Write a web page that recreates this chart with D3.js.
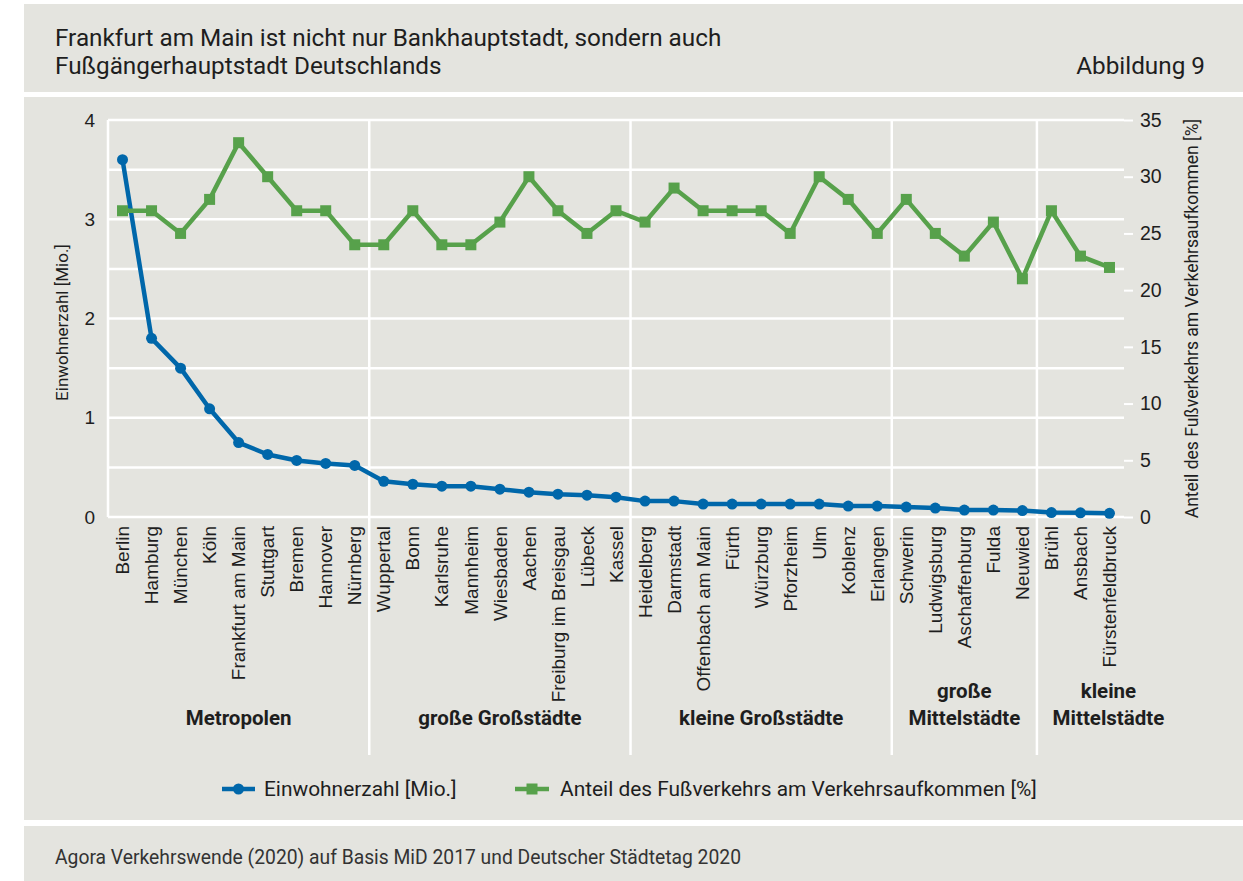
<!DOCTYPE html>
<html>
<head>
<meta charset="utf-8">
<script src="https://cdn.jsdelivr.net/npm/d3@7"></script>
<style>
  body { margin: 0; background: #fff; }
  svg { display: block; font-family: Roboto, "Open Sans", sans-serif; }
</style>
</head>
<body>
<div class="container"></div>
<script>
var width = 1243,
    height = 881,
    bg = '#e4e4df',
    blue = '#0067aa',
    green = '#57a14b',
    textCol = '#1e1e1e';

var cities = ['Berlin', 'Hamburg', 'München', 'Köln', 'Frankfurt am Main', 'Stuttgart', 'Bremen', 'Hannover', 'Nürnberg',
    'Wuppertal', 'Bonn', 'Karlsruhe', 'Mannheim', 'Wiesbaden', 'Aachen', 'Freiburg im Breisgau', 'Lübeck', 'Kassel',
    'Heidelberg', 'Darmstadt', 'Offenbach am Main', 'Fürth', 'Würzburg', 'Pforzheim', 'Ulm', 'Koblenz', 'Erlangen',
    'Schwerin', 'Ludwigsburg', 'Aschaffenburg', 'Fulda', 'Neuwied',
    'Brühl', 'Ansbach', 'Fürstenfeldbruck'];

// Einwohnerzahl [Mio.]
var population = [3.6, 1.8, 1.5, 1.09, 0.75, 0.63, 0.57, 0.54, 0.52,
    0.36, 0.33, 0.31, 0.31, 0.28, 0.25, 0.23, 0.22, 0.20,
    0.16, 0.16, 0.13, 0.13, 0.13, 0.13, 0.13, 0.11, 0.11,
    0.10, 0.09, 0.07, 0.07, 0.065,
    0.045, 0.042, 0.037];

// Anteil des Fußverkehrs [%]
var walkShare = [27, 27, 25, 28, 33, 30, 27, 27, 24,
    24, 27, 24, 24, 26, 30, 27, 25, 27,
    26, 29, 27, 27, 27, 25, 30, 28, 25,
    28, 25, 23, 26, 21,
    27, 23, 22];

var groups = [
    { name: ['Metropolen'], first: 'Berlin', last: 'Nürnberg' },
    { name: ['große Großstädte'], first: 'Wuppertal', last: 'Kassel' },
    { name: ['kleine Großstädte'], first: 'Heidelberg', last: 'Erlangen' },
    { name: ['große', 'Mittelstädte'], first: 'Schwerin', last: 'Neuwied' },
    { name: ['kleine', 'Mittelstädte'], first: 'Brühl', last: 'Fürstenfeldbruck' }
];

var leftTicks = [0, 1, 2, 3, 4],
    rightTicks = [0, 5, 10, 15, 20, 25, 30, 35];

var plot = { left: 108, right: 1124, top: 120, bottom: 517 };

var drawPanels = (svg) => {
    svg.append('rect').attr('x', 24).attr('y', 4).attr('width', width - 24).attr('height', 88).attr('fill', bg);
    svg.append('rect').attr('x', 24).attr('y', 97).attr('width', width - 24).attr('height', 723).attr('fill', bg);
    svg.append('rect').attr('x', 24).attr('y', 826).attr('width', width - 24).attr('height', height - 826).attr('fill', bg);

    var t = svg.append('g').style('font-size', '24.3px').attr('fill', textCol);
    t.append('text').attr('x', 55).attr('y', 46).text('Frankfurt am Main ist nicht nur Bankhauptstadt, sondern auch');
    t.append('text').attr('x', 55).attr('y', 74).text('Fußgängerhauptstadt Deutschlands');
    t.append('text').attr('x', 1205).attr('y', 74).attr('text-anchor', 'end').text('Abbildung 9');

    svg.append('text').attr('x', 55).attr('y', 864)
        .style('font-size', '19.3px').attr('fill', '#333')
        .text('Agora Verkehrswende (2020) auf Basis MiD 2017 und Deutscher Städtetag 2020');
}

var drawChart = (svg) => {
    var x = d3.scaleBand().domain(cities).range([plot.left, plot.right]);
    var yL = d3.scaleLinear().domain([0, 4]).range([plot.bottom, plot.top]);
    var yR = d3.scaleLinear().domain([0, 35]).range([plot.bottom, plot.top]);
    var cx = (d) => x(d) + x.bandwidth() / 2;

    // grid
    var grid = svg.append('g').attr('stroke', '#fff').attr('stroke-width', 2.5);
    grid.selectAll('line.h').data(d3.range(0, 4.01, 0.5)).enter().append('line')
        .attr('x1', plot.left).attr('x2', plot.right)
        .attr('y1', (d) => yL(d)).attr('y2', (d) => yL(d));
    grid.append('line').attr('x1', plot.left).attr('x2', plot.left)
        .attr('y1', plot.top).attr('y2', plot.bottom);
    grid.selectAll('line.sep').data(groups.slice(1)).enter().append('line')
        .attr('x1', (d) => x(d.first)).attr('x2', (d) => x(d.first))
        .attr('y1', plot.top).attr('y2', 755);

    // left axis
    var axL = svg.append('g').attr('transform', 'translate(' + plot.left + ',0)')
        .call(d3.axisLeft(yL).tickValues(leftTicks).tickSize(0).tickPadding(13).tickFormat(d3.format('d')));
    axL.select('.domain').remove();
    axL.selectAll('text').style('font-size', '19px').attr('fill', textCol);

    // right axis
    var axR = svg.append('g').attr('transform', 'translate(' + plot.right + ',0)')
        .call(d3.axisRight(yR).tickValues(rightTicks).tickSize(9).tickPadding(7));
    axR.select('.domain').remove();
    axR.selectAll('line').attr('stroke', '#fff').attr('stroke-width', 2);
    axR.selectAll('text').style('font-size', '19.5px').attr('fill', textCol);

    // axis titles
    svg.append('text').attr('transform', 'translate(68,' + (plot.top + plot.bottom + 8) / 2 + ') rotate(-90)')
        .attr('text-anchor', 'middle').style('font-size', '17px').attr('fill', textCol)
        .text('Einwohnerzahl [Mio.]');
    svg.append('text').attr('transform', 'translate(1198,' + (plot.top + plot.bottom) / 2 + ') rotate(-90)')
        .attr('text-anchor', 'middle').style('font-size', '17.5px').attr('fill', textCol)
        .text('Anteil des Fußverkehrs am Verkehrsaufkommen [%]');

    // city labels
    var xa = svg.append('g').attr('transform', 'translate(0,' + plot.bottom + ')')
        .call(d3.axisBottom(x).tickSize(0).tickPadding(0));
    xa.select('.domain').remove();
    xa.selectAll('text')
        .attr('text-anchor', 'end')
        .attr('transform', 'translate(0,9) rotate(-90)')
        .attr('x', 0).attr('y', 0).attr('dy', '0.35em')
        .style('font-size', '19px').attr('fill', textCol);

    // group labels
    var gl = svg.append('g').style('font-size', '20.5px').style('font-weight', 'bold').attr('fill', textCol)
        .attr('text-anchor', 'middle');
    groups.forEach((g, i) => {
        var x0 = x(g.first),
            x1 = i === groups.length - 1 ? 1180 : x(g.last) + x.bandwidth();
        var t = gl.append('text').attr('x', (x0 + x1) / 2).attr('y', 725 - (g.name.length - 1) * 27);
        g.name.forEach((s, j) => {
            t.append('tspan').attr('x', (x0 + x1) / 2).attr('dy', j ? 27 : 0).text(s);
        });
    });

    // population line
    svg.append('path').datum(population)
        .attr('fill', 'none').attr('stroke', blue).attr('stroke-width', 4.5).attr('stroke-linejoin', 'round')
        .attr('d', d3.line().x((d, i) => cx(cities[i])).y((d) => yL(d)));
    svg.append('g').selectAll('circle').data(population).enter().append('circle')
        .attr('cx', (d, i) => cx(cities[i])).attr('cy', (d) => yL(d)).attr('r', 5.5).attr('fill', blue);

    // walk share line
    svg.append('path').datum(walkShare)
        .attr('fill', 'none').attr('stroke', green).attr('stroke-width', 4.5).attr('stroke-linejoin', 'miter')
        .attr('d', d3.line().x((d, i) => cx(cities[i])).y((d) => yR(d)));
    svg.append('g').selectAll('rect').data(walkShare).enter().append('rect')
        .attr('x', (d, i) => cx(cities[i]) - 5.5).attr('y', (d) => yR(d) - 5.5)
        .attr('width', 11).attr('height', 11).attr('fill', green);

    // legend
    var lg = svg.append('g').style('font-size', '20.9px').attr('fill', textCol);
    var l1 = lg.append('g').attr('transform', 'translate(222,789)');
    l1.append('line').attr('x1', 0).attr('x2', 33).attr('stroke', blue).attr('stroke-width', 4.5);
    l1.append('circle').attr('cx', 16.5).attr('r', 5.5).attr('fill', blue);
    l1.append('text').attr('x', 42).attr('dy', '0.35em').text('Einwohnerzahl [Mio.]');
    var l2 = lg.append('g').attr('transform', 'translate(515,789)');
    l2.append('line').attr('x1', 0).attr('x2', 34).attr('stroke', green).attr('stroke-width', 4.5);
    l2.append('rect').attr('x', 11.5).attr('y', -5.5).attr('width', 11).attr('height', 11).attr('fill', green);
    l2.append('text').attr('x', 45).attr('dy', '0.35em').text('Anteil des Fußverkehrs am Verkehrsaufkommen [%]');
}

window.onload = () => {
    var svg = d3.select('.container').append('svg')
        .attr('width', width).attr('height', height);
    drawPanels(svg);
    drawChart(svg);
}
</script>
</body>
</html>
